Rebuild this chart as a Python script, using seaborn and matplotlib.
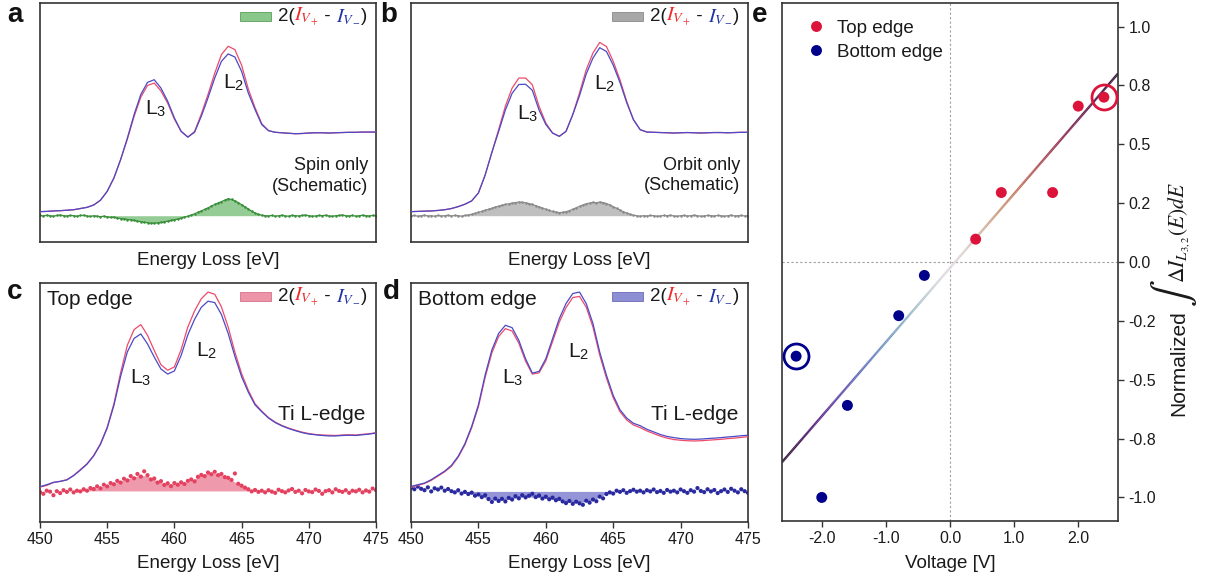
import numpy as np
import pandas as pd
import matplotlib
matplotlib.use("Agg")
import matplotlib.pyplot as plt
import seaborn as sns
from matplotlib.collections import LineCollection
from matplotlib.offsetbox import TextArea, HPacker, AnchoredOffsetbox, DrawingArea
from matplotlib.patches import Rectangle
from matplotlib.ticker import MultipleLocator, FormatStrFormatter

sns.set_theme(style="ticks")
plt.rcParams['font.family'] = ['Liberation Sans', 'DejaVu Sans']
plt.rcParams['mathtext.fontset'] = 'stix'
plt.rcParams['axes.linewidth'] = 1.2
plt.rcParams['axes.edgecolor'] = '#333333'

# ---------------- data ----------------
# energy grids (eV)
energy = np.arange(450.0, 475.01, 0.5)      # 51 samples for the spectra
energy_q = np.arange(450.0, 475.01, 0.25)   # 101 samples for difference signals

# Panel a (schematic, spin only)
blue_a = [0.127, 0.128, 0.130, 0.131, 0.133, 0.135, 0.140, 0.145, 0.155, 0.175, 0.212,
          0.268, 0.345, 0.435, 0.533, 0.617, 0.668, 0.679, 0.644, 0.589, 0.519,
          0.463, 0.439, 0.459, 0.526, 0.603, 0.686, 0.756, 0.787, 0.774, 0.714,
          0.623, 0.554, 0.491, 0.466, 0.459, 0.457, 0.455, 0.453, 0.454, 0.456,
          0.457, 0.457, 0.456, 0.457, 0.458, 0.459, 0.459, 0.460, 0.460, 0.460]
red_a = [0.127, 0.128, 0.130, 0.131, 0.133, 0.135, 0.140, 0.145, 0.155, 0.175, 0.212,
         0.268, 0.345, 0.430, 0.525, 0.606, 0.655, 0.665, 0.632, 0.581, 0.514,
         0.463, 0.439, 0.462, 0.535, 0.617, 0.706, 0.784, 0.819, 0.805, 0.740,
         0.640, 0.562, 0.495, 0.466, 0.459, 0.457, 0.455, 0.453, 0.454, 0.456,
         0.457, 0.457, 0.456, 0.457, 0.458, 0.459, 0.459, 0.460, 0.460, 0.460]
diff_a = [0.111, 0.109, 0.112, 0.110, 0.108, 0.111, 0.113, 0.110, 0.109, 0.111,
          0.110, 0.108, 0.111, 0.112, 0.109, 0.107, 0.110, 0.108, 0.106, 0.108,
          0.105, 0.103, 0.104, 0.100, 0.098, 0.097, 0.094, 0.093, 0.090, 0.087,
          0.085, 0.082, 0.081, 0.078, 0.079, 0.080, 0.082, 0.084, 0.087, 0.090,
          0.093, 0.096, 0.100, 0.104, 0.108, 0.113, 0.118, 0.124, 0.130, 0.136,
          0.143, 0.150, 0.157, 0.163, 0.169, 0.175, 0.181, 0.178, 0.172, 0.165,
          0.156, 0.147, 0.138, 0.129, 0.121, 0.116, 0.112, 0.110, 0.109, 0.111,
          0.108, 0.110, 0.112, 0.109, 0.108, 0.111, 0.110, 0.109, 0.111, 0.113,
          0.110, 0.108, 0.109, 0.111, 0.110, 0.112, 0.109, 0.108, 0.110, 0.111,
          0.113, 0.110, 0.109, 0.111, 0.108, 0.110, 0.112, 0.110, 0.109, 0.111, 0.110]
base_a = 0.110

# Panel b (schematic, orbit only)
red_b = [0.127, 0.128, 0.129, 0.130, 0.132, 0.135, 0.140, 0.148, 0.158, 0.172, 0.205,
         0.280, 0.375, 0.470, 0.568, 0.644, 0.686, 0.686, 0.658, 0.568, 0.498,
         0.456, 0.442, 0.463, 0.533, 0.624, 0.721, 0.791, 0.835, 0.818, 0.756,
         0.679, 0.589, 0.512, 0.470, 0.460, 0.459, 0.458, 0.457, 0.456, 0.457,
         0.458, 0.457, 0.456, 0.457, 0.458, 0.458, 0.457, 0.458, 0.459, 0.459]
blue_b = [0.127, 0.128, 0.129, 0.130, 0.132, 0.135, 0.140, 0.148, 0.158, 0.172, 0.205,
          0.280, 0.375, 0.462, 0.552, 0.622, 0.659, 0.660, 0.635, 0.552, 0.492,
          0.456, 0.442, 0.463, 0.533, 0.612, 0.703, 0.770, 0.813, 0.797, 0.740,
          0.668, 0.583, 0.512, 0.470, 0.460, 0.459, 0.458, 0.457, 0.456, 0.457,
          0.458, 0.457, 0.456, 0.457, 0.458, 0.458, 0.457, 0.458, 0.459, 0.459]
diff_b = [0.109, 0.111, 0.108, 0.110, 0.112, 0.109, 0.110, 0.108, 0.111, 0.109,
          0.110, 0.112, 0.109, 0.111, 0.110, 0.108, 0.111, 0.113, 0.116, 0.120,
          0.124, 0.128, 0.133, 0.137, 0.141, 0.146, 0.150, 0.154, 0.157, 0.160,
          0.163, 0.165, 0.167, 0.166, 0.164, 0.161, 0.157, 0.152, 0.147, 0.142,
          0.137, 0.132, 0.128, 0.125, 0.123, 0.124, 0.127, 0.131, 0.137, 0.143,
          0.149, 0.155, 0.160, 0.163, 0.166, 0.164, 0.167, 0.165, 0.161, 0.155,
          0.148, 0.141, 0.134, 0.127, 0.121, 0.116, 0.112, 0.110, 0.108, 0.110,
          0.109, 0.111, 0.110, 0.108, 0.109, 0.111, 0.110, 0.112, 0.109, 0.108,
          0.110, 0.111, 0.109, 0.110, 0.112, 0.110, 0.108, 0.109, 0.111, 0.110,
          0.109, 0.111, 0.110, 0.108, 0.110, 0.112, 0.109, 0.110, 0.111, 0.109, 0.110]
base_b = 0.110

# Panel c (top edge, Ti L-edge)
red_c = [0.146, 0.153, 0.165, 0.170, 0.177, 0.195, 0.219, 0.244, 0.279, 0.328, 0.397,
         0.495, 0.625, 0.740, 0.805, 0.826, 0.781, 0.718, 0.658, 0.635, 0.649,
         0.721, 0.816, 0.883, 0.934, 0.962, 0.953, 0.900, 0.816, 0.711, 0.621,
         0.551, 0.495, 0.464, 0.437, 0.418, 0.404, 0.393, 0.384, 0.376, 0.370,
         0.366, 0.364, 0.363, 0.362, 0.364, 0.365, 0.364, 0.367, 0.369, 0.374]
blue_c = [0.148, 0.156, 0.166, 0.170, 0.176, 0.194, 0.217, 0.242, 0.277, 0.325, 0.393,
          0.488, 0.610, 0.712, 0.768, 0.787, 0.745, 0.690, 0.640, 0.619, 0.632,
          0.697, 0.783, 0.848, 0.898, 0.924, 0.918, 0.868, 0.789, 0.693, 0.608,
          0.543, 0.490, 0.461, 0.435, 0.416, 0.402, 0.391, 0.382, 0.374, 0.368,
          0.365, 0.362, 0.360, 0.360, 0.362, 0.363, 0.362, 0.365, 0.368, 0.372]
fill_c = [0.130, 0.130, 0.130, 0.130, 0.130, 0.130, 0.131, 0.134, 0.139, 0.146, 0.153,
          0.161, 0.170, 0.180, 0.189, 0.196, 0.192, 0.177, 0.165, 0.159, 0.158,
          0.161, 0.167, 0.180, 0.195, 0.204, 0.203, 0.196, 0.183, 0.167, 0.150,
          0.136, 0.130, 0.130, 0.130, 0.130, 0.130, 0.130, 0.130, 0.130, 0.130,
          0.130, 0.130, 0.130, 0.130, 0.130, 0.130, 0.130, 0.130, 0.130, 0.130]
dots_c = [0.125, 0.118, 0.131, 0.127, 0.112, 0.129, 0.121, 0.133, 0.126, 0.136,
          0.124, 0.131, 0.128, 0.137, 0.131, 0.142, 0.138, 0.149, 0.141, 0.156,
          0.149, 0.163, 0.158, 0.172, 0.165, 0.181, 0.174, 0.192, 0.183, 0.201,
          0.190, 0.212, 0.196, 0.178, 0.182, 0.165, 0.171, 0.155, 0.162, 0.150,
          0.163, 0.156, 0.166, 0.159, 0.172, 0.178, 0.170, 0.189, 0.197, 0.192,
          0.207, 0.200, 0.210, 0.196, 0.201, 0.188, 0.185, 0.176, 0.203, 0.160,
          0.152, 0.144, 0.137, 0.128, 0.134, 0.126, 0.131, 0.124, 0.133, 0.127,
          0.122, 0.135, 0.129, 0.124, 0.132, 0.138, 0.126, 0.131, 0.120, 0.134,
          0.128, 0.125, 0.136, 0.130, 0.118, 0.129, 0.133, 0.124, 0.137, 0.130,
          0.126, 0.133, 0.122, 0.131, 0.128, 0.135, 0.124, 0.132, 0.127, 0.140, 0.133]
base_c = 0.130

# Panel d (bottom edge, Ti L-edge)
blue_d = [0.149, 0.156, 0.163, 0.177, 0.195, 0.213, 0.237, 0.275, 0.328, 0.400, 0.490,
          0.615, 0.720, 0.789, 0.823, 0.813, 0.760, 0.683, 0.623, 0.630, 0.683,
          0.767, 0.851, 0.914, 0.956, 0.962, 0.914, 0.830, 0.711, 0.614, 0.530,
          0.470, 0.435, 0.413, 0.403, 0.388, 0.377, 0.366, 0.358, 0.353, 0.349,
          0.347, 0.346, 0.347, 0.349, 0.351, 0.353, 0.356, 0.358, 0.361, 0.363]
red_d = [0.146, 0.153, 0.161, 0.174, 0.192, 0.210, 0.233, 0.271, 0.323, 0.394, 0.482,
         0.605, 0.708, 0.776, 0.809, 0.799, 0.748, 0.673, 0.619, 0.624, 0.674,
         0.755, 0.836, 0.897, 0.939, 0.944, 0.899, 0.815, 0.698, 0.602, 0.520,
         0.462, 0.427, 0.406, 0.395, 0.381, 0.370, 0.359, 0.351, 0.345, 0.342,
         0.340, 0.339, 0.340, 0.342, 0.344, 0.346, 0.349, 0.351, 0.354, 0.357]
fill_d = [0.128, 0.128, 0.128, 0.128, 0.128, 0.128, 0.128, 0.126, 0.122, 0.117, 0.110,
          0.101, 0.093, 0.090, 0.093, 0.098, 0.103, 0.105, 0.104, 0.102, 0.099,
          0.095, 0.090, 0.085, 0.082, 0.082, 0.086, 0.093, 0.105, 0.119, 0.128,
          0.128, 0.128, 0.128, 0.128, 0.128, 0.128, 0.128, 0.128, 0.128, 0.128,
          0.128, 0.128, 0.128, 0.128, 0.128, 0.128, 0.128, 0.128, 0.128, 0.128]
dots_d = [0.142, 0.137, 0.148, 0.139, 0.133, 0.145, 0.128, 0.141, 0.136, 0.144,
          0.131, 0.138, 0.129, 0.124, 0.133, 0.119, 0.126, 0.117, 0.123, 0.110,
          0.115, 0.104, 0.112, 0.096, 0.084, 0.098, 0.088, 0.097, 0.086, 0.101,
          0.094, 0.108, 0.099, 0.112, 0.103, 0.110, 0.118, 0.104, 0.111, 0.098,
          0.106, 0.095, 0.102, 0.091, 0.097, 0.086, 0.079, 0.088, 0.076, 0.085,
          0.078, 0.072, 0.089, 0.081, 0.094, 0.087, 0.106, 0.099, 0.117, 0.124,
          0.119, 0.131, 0.126, 0.133, 0.122, 0.129, 0.135, 0.127, 0.131, 0.124,
          0.133, 0.128, 0.136, 0.125, 0.130, 0.122, 0.134, 0.127, 0.131, 0.124,
          0.136, 0.129, 0.122, 0.133, 0.127, 0.142, 0.130, 0.125, 0.137, 0.128,
          0.134, 0.121, 0.129, 0.136, 0.126, 0.139, 0.131, 0.124, 0.137, 0.129, 0.122]
base_d = 0.128

# Panel e
top_voltage = [0.4, 0.8, 1.6, 2.0, 2.4]
top_value = [0.097, 0.295, 0.295, 0.662, 0.700]
bottom_voltage = [-0.4, -0.8, -1.6, -2.0, -2.4]
bottom_value = [-0.057, -0.228, -0.609, -1.000, -0.400]
circled_voltage = 2.4   # the +/-2.4 V points are circled
fit_slope = 0.315
fit_intercept = -0.025

# ---------------- colours ----------------
RED_LINE = '#ee4a6b'
BLUE_LINE = '#4a4ac6'
LEG_RED = '#f02828'
LEG_BLUE = '#2233aa'
TOP_C = '#dc143c'
BOT_C = '#00008b'
TXT = '#1a1a1a'

fig = plt.figure(figsize=(12.11, 5.81), dpi=100)
W, H = 1211, 581


def axes_px(l, t, r, b):
    return fig.add_axes([l / W, 1 - b / H, (r - l) / W, (b - t) / H])


ax_a = axes_px(40, 3, 376, 242)
ax_b = axes_px(411, 3, 748, 242)
ax_c = axes_px(40, 283, 376, 522)
ax_d = axes_px(411, 283, 748, 522)
ax_e = axes_px(782, 3, 1118, 521)


def diff_legend(ax, fc, ec):
    da = DrawingArea(22, 6.5, 0, 0)
    da.add_artist(Rectangle((0, 0), 22, 6.5, fc=fc, ec=ec, lw=0.6))
    fs = 13.5
    parts = [TextArea("2(", textprops=dict(size=fs, color=TXT)),
             TextArea(r"$I_{V_+}$", textprops=dict(size=fs + 1, color=LEG_RED)),
             TextArea(" - ", textprops=dict(size=fs, color=TXT)),
             TextArea(r"$I_{V_-}$", textprops=dict(size=fs + 1, color=LEG_BLUE)),
             TextArea(")", textprops=dict(size=fs, color=TXT))]
    txt = HPacker(children=parts, align="baseline", pad=0, sep=0)
    box = HPacker(children=[da, txt], align="center", pad=0, sep=5)
    anch = AnchoredOffsetbox(loc='upper right', child=box, pad=0, borderpad=0,
                             frameon=False, bbox_to_anchor=(0.975, 0.99),
                             bbox_transform=ax.transAxes)
    ax.add_artist(anch)


def spectra(ax, red, blue, labelpad):
    sns.lineplot(x=energy, y=red, ax=ax, color=RED_LINE, lw=0.9, estimator=None, zorder=3)
    sns.lineplot(x=energy, y=blue, ax=ax, color=BLUE_LINE, lw=0.9, estimator=None, zorder=3)
    ax.set_xlim(450, 475)
    ax.set_ylim(0, 1)
    ax.tick_params(left=False, labelleft=False)
    ax.set_xlabel("Energy Loss [eV]", fontsize=13.5, color=TXT, labelpad=labelpad)


def peak_labels(ax, l3, l2):
    ax.text(l3[0], l3[1], r"L$_\mathregular{3}$", fontsize=15, color=TXT, va='baseline', zorder=4)
    ax.text(l2[0], l2[1], r"L$_\mathregular{2}$", fontsize=15, color=TXT, va='baseline', zorder=4)


# ----- panel a -----
spectra(ax_a, red_a, blue_a, 7)
ax_a.fill_between(energy_q, base_a, diff_a, color='#8ac78a', alpha=0.9, lw=0, zorder=1)
sns.lineplot(x=energy_q, y=diff_a, ax=ax_a, color='#3a8f3a', lw=0.9, marker='o', ms=1.8,
             mec='none', estimator=None, zorder=2)
ax_a.tick_params(bottom=False, labelbottom=False)
ax_a.set_ylabel("Intensity [arb. units]", fontsize=13.5, color=TXT, labelpad=7)
peak_labels(ax_a, (457.8, 0.533), (463.6, 0.644))
ax_a.text(0.976, 0.30, "Spin only", transform=ax_a.transAxes, ha='right', va='baseline', fontsize=13, color=TXT)
ax_a.text(0.976, 0.213, "(Schematic)", transform=ax_a.transAxes, ha='right', va='baseline', fontsize=13, color=TXT)
diff_legend(ax_a, '#8ac78a', '#5a9f5a')

# ----- panel b -----
spectra(ax_b, red_b, blue_b, 7)
ax_b.fill_between(energy_q, base_b, diff_b, color='#b8b8b8', alpha=0.9, lw=0, zorder=1)
sns.lineplot(x=energy_q, y=diff_b, ax=ax_b, color='#8a8a8a', lw=0.9, marker='o', ms=1.8,
             mec='none', estimator=None, zorder=2)
ax_b.tick_params(bottom=False, labelbottom=False)
peak_labels(ax_b, (457.85, 0.515), (463.6, 0.637))
ax_b.text(0.976, 0.303, "Orbit only", transform=ax_b.transAxes, ha='right', va='baseline', fontsize=13, color=TXT)
ax_b.text(0.976, 0.219, "(Schematic)", transform=ax_b.transAxes, ha='right', va='baseline', fontsize=13, color=TXT)
diff_legend(ax_b, '#a8a8a8', '#8a8a8a')

# ----- panel c -----
spectra(ax_c, red_c, blue_c, 6)
ax_c.fill_between(energy, base_c, fill_c, color='#ee94a8', alpha=0.95, lw=0, zorder=1)
sns.scatterplot(x=energy_q, y=dots_c, ax=ax_c, color='#e4405f', s=9, edgecolor='none', zorder=2)
ax_c.set_ylabel("Intensity [arb. units]", fontsize=13.5, color=TXT, labelpad=7)
peak_labels(ax_c, (456.7, 0.579), (461.6, 0.693))
ax_c.text(0.02, 0.907, "Top edge", transform=ax_c.transAxes, ha='left', va='baseline', fontsize=15, color=TXT)
ax_c.text(0.967, 0.425, "Ti L-edge", transform=ax_c.transAxes, ha='right', va='baseline', fontsize=15, color=TXT)
diff_legend(ax_c, '#ee94a8', '#d8708a')

# ----- panel d -----
spectra(ax_d, red_d, blue_d, 6)
ax_d.fill_between(energy, base_d, fill_d, color='#8e8ed4', alpha=0.95, lw=0, zorder=1)
sns.scatterplot(x=energy_q, y=dots_d, ax=ax_d, color='#2a2aa0', s=9, edgecolor='none', zorder=2)
peak_labels(ax_d, (456.75, 0.579), (461.65, 0.688))
ax_d.text(0.021, 0.907, "Bottom edge", transform=ax_d.transAxes, ha='left', va='baseline', fontsize=15, color=TXT)
ax_d.text(0.970, 0.425, "Ti L-edge", transform=ax_d.transAxes, ha='right', va='baseline', fontsize=15, color=TXT)
diff_legend(ax_d, '#8e8ed4', '#6a6ab8')

for ax in (ax_c, ax_d):
    ax.xaxis.set_major_locator(MultipleLocator(5))
    ax.tick_params(axis='x', bottom=True, labelbottom=True, length=4, width=1, labelsize=11.5,
                   colors='#333333', labelcolor=TXT, pad=3)

# ----- panel e -----
ax = ax_e
xlim = (-2.62, 2.62)
ax.set_xlim(*xlim)
ax.set_ylim(-1.1, 1.1)
ax.axvline(0, color='#a0a0a0', lw=0.8, ls=(0, (2, 2)), zorder=0)
ax.axhline(0, color='#a0a0a0', lw=0.8, ls=(0, (2, 2)), zorder=0)

xs = np.linspace(xlim[0], xlim[1], 400)
ys = fit_intercept + fit_slope * xs
pts = np.column_stack([xs, ys]).reshape(-1, 1, 2)
segs = np.concatenate([pts[:-1], pts[1:]], axis=1)
lc = LineCollection(segs, cmap='twilight_shifted', norm=plt.Normalize(*xlim), lw=1.7, zorder=2)
lc.set_array((xs[:-1] + xs[1:]) / 2)
ax.add_collection(lc)

df = pd.DataFrame({
    'Voltage': top_voltage + bottom_voltage,
    'Value': top_value + bottom_value,
    'Edge': ['Top edge'] * len(top_voltage) + ['Bottom edge'] * len(bottom_voltage),
})
sns.scatterplot(data=df, x='Voltage', y='Value', hue='Edge',
                palette={'Top edge': TOP_C, 'Bottom edge': BOT_C},
                s=62, edgecolor='none', ax=ax, zorder=4)
for edge, col in (('Top edge', TOP_C), ('Bottom edge', BOT_C)):
    sub = df[(df['Edge'] == edge) & (df['Voltage'].abs() == circled_voltage)]
    ax.plot(sub['Voltage'], sub['Value'], 'o', mfc='none', mec=col, ms=18, mew=2, zorder=5)

ax.legend(loc='upper left', frameon=False, fontsize=13.5, borderaxespad=0.5, borderpad=0.4,
          handlelength=1.8, handletextpad=0.25, labelspacing=0.35, markerscale=1.0)
for t in ax.get_legend().get_texts():
    t.set_color(TXT)

ax.xaxis.set_major_locator(MultipleLocator(1.0))
ax.xaxis.set_major_formatter(FormatStrFormatter('%.1f'))
ax.yaxis.set_major_locator(MultipleLocator(0.25))
ax.yaxis.set_major_formatter(FormatStrFormatter('%.1f'))
ax.yaxis.tick_right()
ax.tick_params(axis='both', length=4, width=1, labelsize=11.5, colors='#333333', labelcolor=TXT)
ax.tick_params(axis='y', left=False, right=True, labelleft=False, labelright=True)
ax.set_xlabel("Voltage [V]", fontsize=13.5, color=TXT, labelpad=6)
ax.set_ylabel("")

# right-hand axis title, built from pieces so the integral sign can be large
lab_x = 1184 / W
fig.text(lab_x, 1 - 363 / H, "Normalized", rotation=90, rotation_mode='anchor',
         ha='center', va='baseline', fontsize=15, color=TXT)
fig.text(lab_x, 1 - 293 / H, r"$\int$", rotation=90, rotation_mode='anchor',
         ha='center', va='baseline', fontsize=29, color=TXT)
fig.text(lab_x, 1 - 232 / H, r"$\Delta I_{L_{3,2}}(E)dE$", rotation=90, rotation_mode='anchor',
         ha='center', va='baseline', fontsize=15.5, color=TXT)

# panel letters
for x, y, s in ((7, 22, 'a'), (380, 22, 'b'), (7, 299, 'c'), (383, 299, 'd'), (752, 22, 'e')):
    fig.text(x / W, 1 - y / H, s, fontsize=20, fontweight='bold', color='#111111',
             ha='left', va='baseline')

fig.savefig("out.png", dpi=100)
